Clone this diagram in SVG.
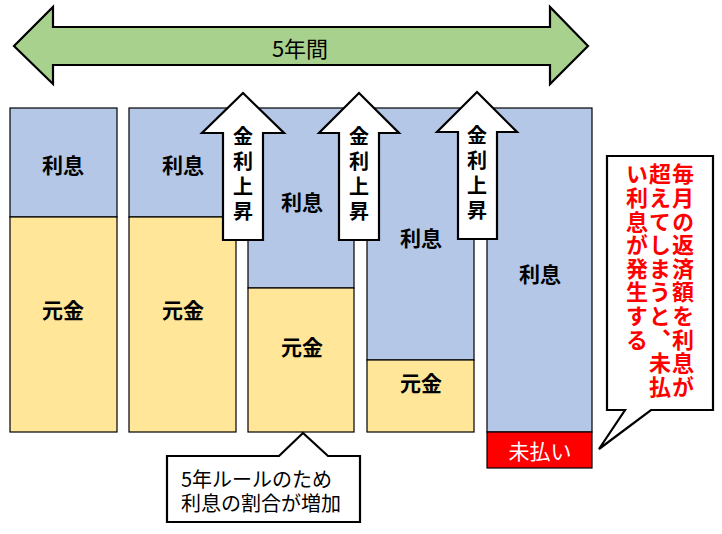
<svg xmlns="http://www.w3.org/2000/svg" width="722" height="534" viewBox="0 0 722 534">
<style>
text{font-family:"Noto Sans CJK JP","Noto Sans",sans-serif;fill:#000}
.blue{fill:#B4C7E7;stroke:#000;stroke-width:1.2}
.yel{fill:#FFE699;stroke:#000;stroke-width:1.2}
.lbl{font-size:21px;font-weight:bold;text-anchor:middle;dominant-baseline:central}
.up{fill:#fff;stroke:#000;stroke-width:2.2;stroke-linejoin:miter}
.upt{font-size:20px;font-weight:bold;writing-mode:vertical-rl;letter-spacing:5px}
.red{font-size:22px;font-weight:bold;fill:#FF0000;writing-mode:vertical-rl;letter-spacing:1.6px}
.call{fill:#fff;stroke:#000;stroke-width:2.2}
</style>
<g id="period">
<path d="M14,46 L53,7 V27 H550 V7 L588,46 L550,84 V65 H53 V84 Z" fill="#A9D18E" stroke="#000" stroke-width="2.2"/>
<text x="300" y="47" font-size="22" text-anchor="middle" dominant-baseline="central">5年間</text>
</g>
<g id="bar1">
<rect class="blue" x="10" y="108" width="107" height="109"/>
<rect class="yel" x="10" y="217" width="107" height="215"/>
<text class="lbl" x="63" y="164">利息</text>
<text class="lbl" x="63" y="309">元金</text>
</g>
<g id="bar2">
<rect class="blue" x="129" y="108" width="107" height="109"/>
<rect class="yel" x="129" y="217" width="107" height="215"/>
<text class="lbl" x="183" y="164">利息</text>
<text class="lbl" x="183" y="309">元金</text>
</g>
<g id="bar3">
<rect class="blue" x="248" y="108" width="106" height="180"/>
<rect class="yel" x="248" y="288" width="106" height="144"/>
<text class="lbl" x="302" y="201">利息</text>
<text class="lbl" x="302" y="346">元金</text>
</g>
<g id="bar4">
<rect class="blue" x="367" y="108" width="107" height="252"/>
<rect class="yel" x="367" y="360" width="107" height="72"/>
<text class="lbl" x="421" y="237">利息</text>
<text class="lbl" x="421" y="382">元金</text>
</g>
<g id="bar5">
<rect class="blue" x="487" y="108" width="105" height="324"/>
<rect x="487" y="432" width="105" height="36" fill="#FF0000" stroke="#000" stroke-width="1.2"/>
<text class="lbl" x="540" y="273">利息</text>
<text x="540" y="450" font-size="21" text-anchor="middle" dominant-baseline="central" style="fill:#fff">未払い</text>
</g>
<g id="rise1">
<path class="up" d="M243,93 L284,133 H263 V240 H223 V133 H202 Z"/>
<text class="upt" x="243" y="126">金利上昇</text>
</g>
<g id="rise2">
<path class="up" d="M359,93 L399,133 H379 V240 H339 V133 H319 Z"/>
<text class="upt" x="359" y="126">金利上昇</text>
</g>
<g id="rise3">
<path class="up" d="M477,92 L517,132 H497 V239 H458 V132 H437 Z"/>
<text class="upt" x="477" y="125">金利上昇</text>
</g>
<g id="note-unpaid">
<path class="call" d="M607,156 H713 V410 H651 L599,449 L625,410 H607 Z"/>
<text class="red" x="683" y="163">毎月の返済額を利息が</text>
<text class="red" x="660" y="163">超えてしまうと、未払</text>
<text class="red" x="637" y="163">い利息が発生する</text>
</g>
<g id="note-5year">
<path class="call" d="M167,456 H279 L303,433 L328,456 H360 V522 H167 Z"/>
<text font-size="20" dominant-baseline="central"><tspan x="181" y="478">5年ルールのため</tspan><tspan x="181" y="502">利息の割合が増加</tspan></text>
</g>
<g id="connectors"/>
</svg>
